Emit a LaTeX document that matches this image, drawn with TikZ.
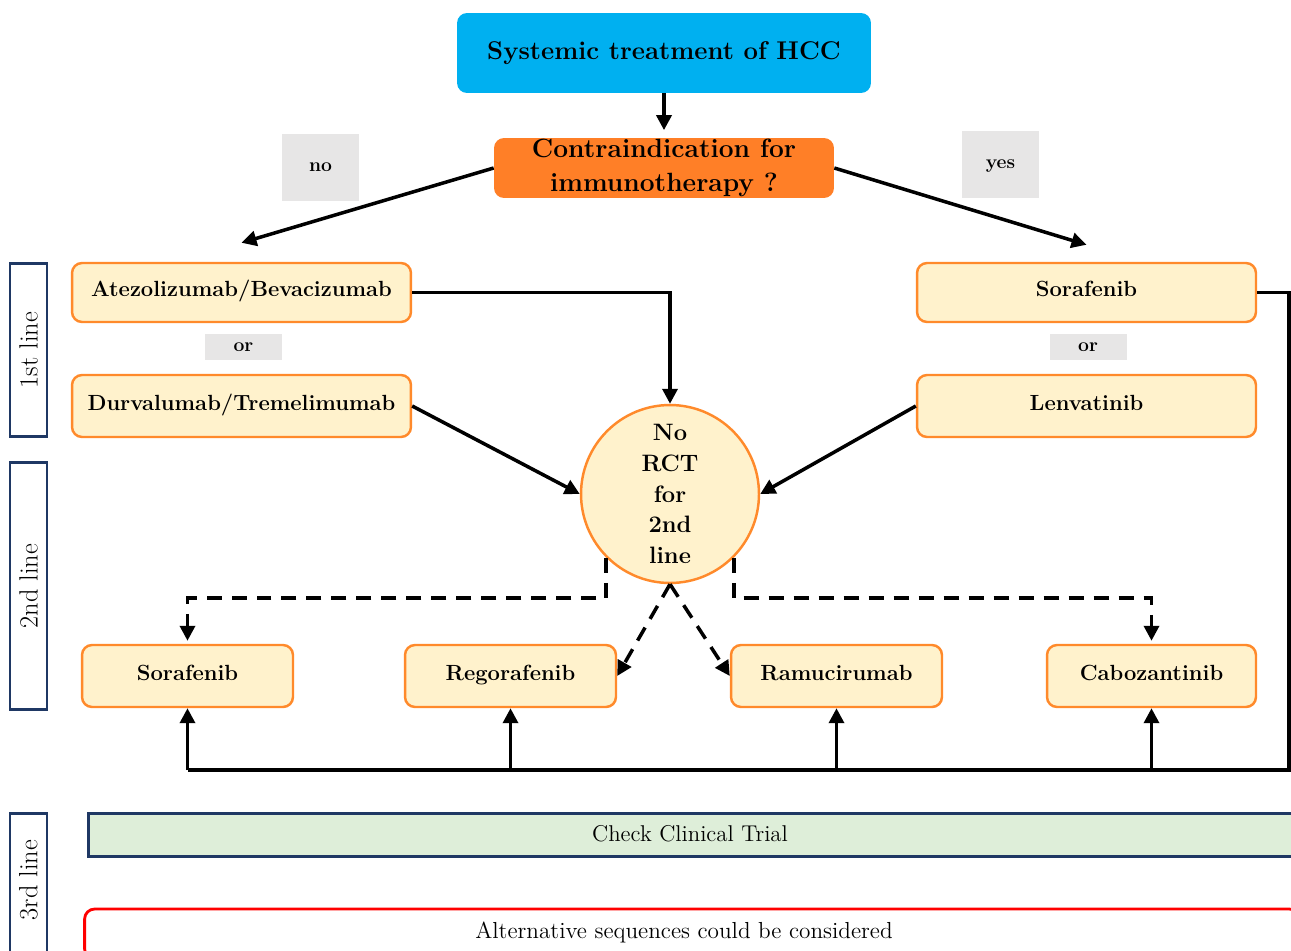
\documentclass[tikz,border=0pt]{standalone}
\usetikzlibrary{arrows.meta}
\definecolor{hccblue}{HTML}{00B0F0}
\definecolor{qorange}{HTML}{FF7F27}
\definecolor{boxfill}{HTML}{FFF2CC}
\definecolor{boxedge}{HTML}{FF8A2B}
\definecolor{lblgray}{HTML}{E7E6E6}
\definecolor{navy}{HTML}{1F3864}
\definecolor{trialgreen}{HTML}{DEEED9}
\begin{document}
\begin{tikzpicture}[x=0.02cm,y=-0.02cm,
  every node/.style={inner sep=0pt, align=center},
  drug/.style={draw=boxedge, fill=boxfill, line width=1.4pt, rounded corners=0.2cm,
    minimum width=6.78cm, text height=0.72em, text depth=0.22em,
    font=\fontsize{12.5}{14}\selectfont\bfseries},
  small/.style={drug, minimum width=4.22cm, minimum height=1.24cm},
  tag/.style={fill=lblgray, minimum width=1.54cm, text height=0.72em, text depth=0.22em,
    font=\fontsize{11}{12}\selectfont\bfseries},
  lane/.style={draw=navy, line width=1.7pt, minimum width=0.74cm, fill=white},
  lanetext/.style={rotate=90, font=\fontsize{15}{17}\selectfont},
  arr/.style={line width=2pt, -{Triangle[length=0.3cm,width=0.3cm]}},
  darr/.style={arr, dash pattern=on 0.3cm off 0.2cm},
  plain/.style={line width=2pt}]
\useasboundingbox (0,0) rectangle (1291,950);
\begin{scope}
\clip (0,0) rectangle (1291,950);

% top of the decision tree
\node[fill=hccblue, rounded corners=0.2cm, minimum width=8.28cm, minimum height=1.6cm,
  font=\fontsize{14.6}{16}\selectfont\bfseries] (title) at (664,53) {Systemic treatment of HCC};
\node[fill=qorange, rounded corners=0.2cm, minimum width=6.8cm, minimum height=1.2cm,
  font=\fontsize{15}{19.5}\selectfont\bfseries] (contra) at (664,168) {Contraindication for\\immunotherapy ?};
\node[tag, minimum height=1.34cm] (no) at (320.5,167.5) {no};
\node[tag, minimum height=1.34cm] (yes) at (1000.5,164.5) {yes};

% first-line options
\node[drug, minimum height=1.18cm] (atezo) at (241.5,292.5) {Atezolizumab/Bevacizumab};
\node[tag, minimum height=0.52cm] (or1) at (243.5,347) {or};
\node[drug, minimum height=1.24cm] (durva) at (241.5,406) {Durvalumab/Tremelimumab};
\node[drug, minimum height=1.18cm] (sora1) at (1086.5,292.5) {Sorafenib};
\node[tag, minimum height=0.52cm] (or2) at (1088,347) {or};
\node[drug, minimum height=1.24cm] (lenva) at (1086.5,406) {Lenvatinib};

% second line hub
\node[circle, draw=boxedge, fill=boxfill, line width=1.4pt, minimum size=3.56cm,
  font=\fontsize{13.5}{17.5}\selectfont\bfseries] (circ) at (670,494) {No\\RCT\\for\\2nd\\line};

% second-line drugs
\node[small] (sora2) at (187.5,676) {Sorafenib};
\node[small] (rego) at (510.5,676) {Regorafenib};
\node[small] (ramu) at (836.5,676) {Ramucirumab};
\node[small, minimum width=4.18cm] (cabo) at (1151.5,676) {Cabozantinib};

% treatment-line labels
\node[lane, minimum height=3.48cm] (l1) at (28.5,350) {};
\node[lanetext] at (l1) {1st line};
\node[lane, minimum height=4.96cm] (l2) at (28.5,586) {};
\node[lanetext] at (l2) {2nd line};
\node[lane, minimum height=2.92cm] (l3) at (28.5,886) {};
\node[lanetext] at (28.5,880) {3rd line};

% third-line bars
\node[draw=navy, fill=trialgreen, line width=1.7pt, minimum width=24.24cm, minimum height=0.86cm] (trial) at (694,834.5) {};
\node[font=\fontsize{13}{15}\selectfont] at (690,834) {Check Clinical Trial};
\node[draw=red, line width=1.6pt, rounded corners=0.2cm, minimum width=24.3cm, minimum height=1.0cm] (alt) at (692,934) {};
\node[font=\fontsize{13.2}{15}\selectfont] at (684,932) {Alternative sequences could be considered};

% connectors
\draw[arr] (title.south) -- ([yshift=0.15cm]contra.north);
\draw[arr] (contra.west) -- ([yshift=0.38cm]atezo.north);
\draw[arr] (contra.east) -- ([yshift=0.34cm]sora1.north);
\draw[arr] (atezo.east) -| (circ.north);
\draw[arr] (durva.east) -- (circ.west);
\draw[arr] (lenva.west) -- (circ.east);

\coordinate (jl) at (187.5,598);
\coordinate (jr) at (1151.5,598);
\draw[darr] (circ.south west) |- (jl) -- ([yshift=0.06cm]sora2.north);
\draw[darr] (circ.south east) |- (jr) -- ([yshift=0.06cm]cabo.north);
\draw[darr] (circ.south) -- (rego.east);
\draw[darr] (circ.south) -- (ramu.west);

\coordinate (rt) at (1289,770);
\draw[plain] (sora1.east) -| (rt) -- (sora2.south |- rt);
\draw[arr] (sora2.south |- rt) -- (sora2.south);
\draw[arr] (rego.south |- rt) -- (rego.south);
\draw[arr] (ramu.south |- rt) -- (ramu.south);
\draw[arr] (cabo.south |- rt) -- (cabo.south);
\end{scope}
\end{tikzpicture}
\end{document}
